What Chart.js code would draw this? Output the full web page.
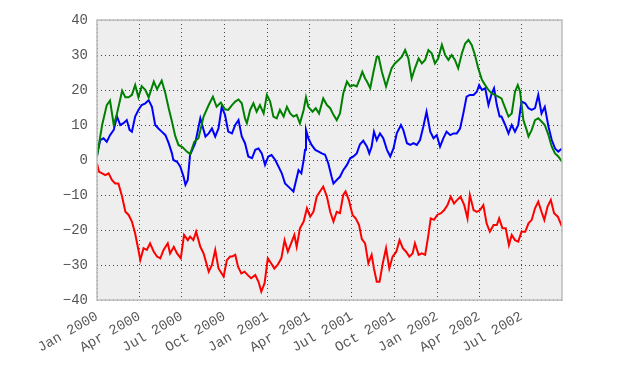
<!DOCTYPE html>
<html>
<head>
<meta charset="utf-8">
<script src="https://cdn.jsdelivr.net/npm/chart.js"></script>
<style>
  body { margin: 0; background: #fff; }
</style>
</head>
<body>
<canvas id="Chart" width="635" height="375"></canvas>
<script>
// x values are days counted from 1 Jan 2000
var tickDays = [0, 91, 182, 274, 366, 456, 547, 639, 731, 821, 912];
var tickLabels = ['Jan 2000', 'Apr 2000', 'Jul 2000', 'Oct 2000', 'Jan 2001', 'Apr 2001',
                  'Jul 2001', 'Oct 2001', 'Jan 2002', 'Apr 2002', 'Jul 2002'];
var yTicks = [-40, -30, -20, -10, 0, 10, 20, 30, 40];

var blueDays = [0,7,14,21,28,36,43,50,57,64,70,75,82,89,96,104,111,118,125,132,139,147,154,161,164,172,179,186,190,195,
  200,211,222,233,240,247,254,261,268,275,282,290,297,304,311,318,325,333,340,347,354,361,368,375,383,390,397,404,415,422,
  427,433,439,444,447,449,454,461,469,476,483,490,497,504,508,515,522,529,537,544,551,558,565,572,580,585,590,595,601,608,
  615,623,630,637,644,653,658,666,673,680,687,694,701,708,716,723,730,737,744,751,759,766,773,780,787,794,801,809,816,821,
  827,834,841,848,853,859,865,869,877,884,891,898,905,912,920,927,934,941,948,955,962,970,977,984,991,999];
var blueVals = [1.4,5.7,6.2,5.2,7.1,8.6,12.4,10,10.5,11.4,8.6,8.1,12.4,14.3,15.7,16.2,17.1,15.2,10,9,8.1,7.1,4.8,1.9,0,-0.5,-1.9,-4.8,-7.1,-5.7,
  1.5,4.8,11.9,6.7,7.6,9,6.7,9,15.2,12.9,8.1,7.6,10,11.4,6.7,4.8,1,0.5,2.9,3.3,1.9,-1.4,1,1.4,0,-1.9,-3.8,-6.7,-8.1,-9,
  -6.2,-2.9,-3.8,0,2.9,8.6,6.2,4.3,2.9,2.4,1.9,1.5,-1,-4.8,-6.7,-5.7,-4.8,-2.9,-1.4,0.5,1,1.9,4.5,5.5,3.8,1.9,3.8,8.1,5.7,7.6,
  6.2,2.9,1,3.3,7.6,10,8.6,4.8,4.3,4.8,4.3,5.7,9.5,13.8,8.1,6.2,7.1,3.8,6.2,8.1,7.1,7.6,7.6,9,13.3,18.1,18.6,18.6,19.5,21.4,
  20,20.5,15.7,19,20.5,15.7,12.4,12.4,10,7.6,10,8.1,10,16.7,16.2,14.8,14.3,14.8,18.6,13.3,15.2,9.5,5.7,3.3,2.4,3.3];

var greenDays = [0,11,21,28,36,43,54,61,68,75,82,89,96,104,111,122,129,139,147,154,161,168,175,184,193,200,209,218,229,240,
  249,257,266,275,282,290,297,304,311,318,322,329,336,343,350,358,365,372,379,386,393,401,408,415,422,429,436,444,449,454,
  463,470,477,486,494,501,508,515,522,529,537,544,551,558,565,570,576,580,587,594,601,605,612,621,626,633,640,648,655,662,
  669,676,683,691,698,705,712,719,726,733,741,748,755,762,769,776,784,791,798,805,812,819,827,834,841,848,855,862,869,877,
  884,891,898,904,909,916,923,927,934,941,948,955,962,970,977,984,991,999];
var greenVals = [1,10,15.7,17,10,13.3,19.8,17.9,17.9,18.6,21.4,17.9,21.1,20,17.9,22.4,20.2,22.7,19,14.8,11,6.9,4.3,3.6,2.4,1.7,5.2,6.2,12.4,15.7,
  18.1,15.2,16.4,14.5,14.3,15.7,16.7,17.3,16.2,11.9,10.5,14.3,16.2,13.8,15.7,13.3,18.6,16.7,12.4,11.9,14.3,12.4,15.2,13.3,12.4,12.9,10.5,14.3,17.9,15.2,
  13.8,14.8,13.3,17.6,15.7,14.8,12.9,11.4,13.3,19,22.4,21,21.4,21,23.3,25.2,23.3,22.4,20.5,25.2,29.5,29.5,25.2,21,23.3,26.2,27.6,28.6,29.5,31.4,
  29,23.3,26.2,29,27.6,28.6,31.4,30.5,27.6,29,32.9,30,28.6,30,28.6,26.2,30.5,33.3,34.3,32.9,30,26.2,22.9,21.4,20,19,18.6,18.1,17.6,14.8,
  12.4,13.3,19.5,21.4,19.5,11.4,8.6,6.7,8.6,11.4,11.9,11,10,7.1,3.8,1.9,1,-0.5];

var redDays = [0,4,11,18,25,32,39,46,54,61,68,75,82,89,93,100,107,114,122,129,136,143,152,157,165,172,180,187,195,200,
  207,213,222,229,240,247,254,261,272,279,286,290,297,303,310,317,324,331,340,347,353,360,367,374,381,388,396,403,410,417,
  424,429,436,444,451,458,465,472,479,486,494,501,508,515,522,529,534,541,549,556,563,569,576,583,590,595,601,607,614,621,
  628,635,643,650,657,664,671,678,683,691,698,705,712,717,724,731,739,746,753,760,767,774,781,789,796,801,809,816,823,830,
  837,844,852,859,864,871,878,885,891,898,905,912,920,927,934,941,948,955,961,968,975,982,990,999];
var redVals = [-1,-3.3,-3.8,-4.3,-3.8,-5.7,-6.7,-6.7,-10.5,-14.8,-15.7,-17.6,-21,-25.7,-28.6,-25.2,-25.7,-23.8,-26.2,-27.6,-28.1,-25.7,-23.8,-26.7,-24.8,-26.7,-28.1,-21.4,-22.9,-21.9,
  -22.9,-20.5,-24.8,-26.7,-31.9,-30,-25.7,-31,-33.3,-28.6,-27.6,-27.6,-27.1,-30.5,-32.4,-31.9,-32.9,-33.8,-32.9,-34.8,-37.6,-35.2,-28.1,-29.5,-31,-30,-28.1,-22.9,-26.2,-23.8,
  -21.4,-24.8,-19.5,-17.6,-13.8,-16.2,-14.8,-10.5,-9,-7.6,-10.5,-14.8,-17.6,-14.8,-15.2,-10,-9,-11.4,-15.7,-16.7,-18.6,-22.6,-23.8,-29.5,-27.1,-31,-34.8,-34.8,-29.5,-25.2,
  -31,-27.6,-26.2,-22.9,-25.2,-26.2,-27.6,-26.7,-23.8,-27.1,-26.7,-27.1,-21.4,-16.7,-17.1,-15.7,-15.2,-14.3,-12.9,-10.5,-12.4,-11.4,-10.5,-12.9,-16.7,-10,-14.3,-14.8,-14.3,-12.9,
  -18.1,-20.5,-18.6,-18.6,-16.7,-19.5,-19.5,-24.3,-21.4,-22.9,-23.3,-20.5,-20.5,-18.1,-17.1,-13.8,-11.9,-14.8,-17.1,-13.3,-11.4,-15.2,-16.2,-19];

function toPoints(days, vals) {
    return days.map(function (d, i) { return { x: d, y: vals[i] }; });
}

// grey plot background and light frame, like the original
var plotFrame = {
    id: 'plotFrame',
    beforeDraw: function (chart) {
        var a = chart.chartArea, c = chart.ctx;
        c.save();
        c.fillStyle = '#eeeeee';
        c.fillRect(a.left, a.top, a.right - a.left, a.bottom - a.top);
        c.restore();
    },
    afterDraw: function (chart) {
        var a = chart.chartArea, c = chart.ctx;
        c.save();
        c.strokeStyle = '#bcbcbc';
        c.lineWidth = 1.5;
        c.strokeRect(a.left, a.top, a.right - a.left, a.bottom - a.top);
        c.restore();
    }
};

var tickFont = { family: 'Liberation Mono', size: 14 };

var ctx = document.getElementById('Chart').getContext('2d');
var myChart = new Chart(ctx, {
    type: 'line',
    data: {
        datasets: [
            { label: 'A', data: toPoints(blueDays, blueVals), borderColor: '#0000ff', order: 3 },
            { label: 'B', data: toPoints(greenDays, greenVals), borderColor: '#008000', order: 2 },
            { label: 'C', data: toPoints(redDays, redVals), borderColor: '#ff0000', order: 1 }
        ]
    },
    options: {
        responsive: false,
        animation: false,
        layout: { padding: { top: 20, right: 73, left: 0, bottom: 0 } },
        elements: {
            line: { borderWidth: 2, tension: 0, fill: false },
            point: { radius: 0 }
        },
        plugins: { legend: { display: false }, tooltip: { enabled: false } },
        scales: {
            x: {
                type: 'linear',
                min: 0,
                max: 999,
                afterBuildTicks: function (scale) {
                    scale.ticks = tickDays.map(function (d) { return { value: d }; });
                },
                afterFit: function (scale) { scale.height = 75; },
                grid: { color: '#444444', lineWidth: 1, drawTicks: false },
                border: { display: false, dash: [1, 3] },
                ticks: {
                    autoSkip: false,
                    minRotation: 30,
                    maxRotation: 30,
                    padding: 8,
                    color: '#555555',
                    font: tickFont,
                    callback: function (value) {
                        var i = tickDays.indexOf(value);
                        return i >= 0 ? tickLabels[i] : '';
                    }
                }
            },
            y: {
                min: -40,
                max: 40,
                afterBuildTicks: function (scale) {
                    scale.ticks = yTicks.map(function (v) { return { value: v }; });
                },
                afterFit: function (scale) { scale.width = 97; },
                grid: { color: '#444444', lineWidth: 1, drawTicks: false },
                border: { display: false, dash: [1, 3] },
                ticks: {
                    padding: 9,
                    color: '#555555',
                    font: tickFont,
                    callback: function (value) {
                        return String(value).replace('-', '\u2212');
                    }
                }
            }
        }
    },
    plugins: [plotFrame]
});
</script>
</body>
</html>
